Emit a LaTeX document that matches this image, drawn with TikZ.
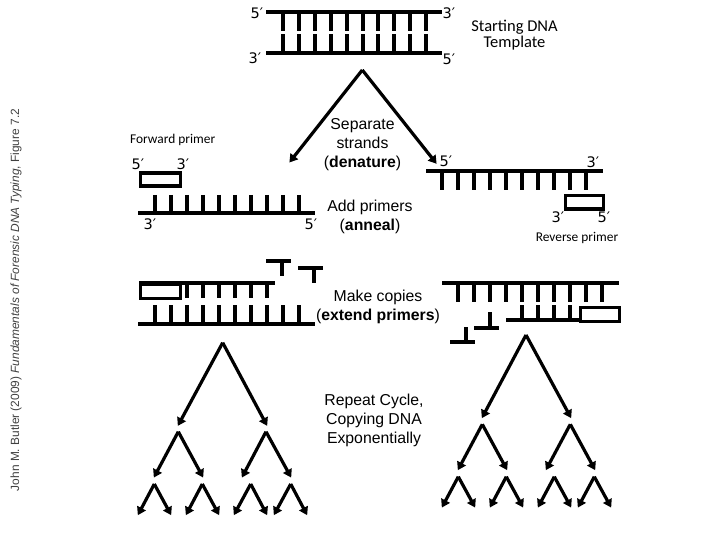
\documentclass[tikz,border=0pt]{standalone}
\usepackage{fontspec}
\setmainfont{Liberation Sans}
\newfontfamily\hand{Carlito}
\newfontfamily\primefont{DejaVu Sans}
\usetikzlibrary{arrows.meta}
\tikzset{
  strand/.style={line width=4pt,line cap=butt},
  rung/.style={line width=4pt,line cap=butt},
  primer/.style={draw=black,line width=3.2pt,fill=white,minimum width=0pt,inner sep=0pt},
  flow/.style={line width=3.2pt,line cap=butt,-{Triangle[length=8pt,width=9.5pt]},shorten >=-1pt},
  end/.style={font=\primefont\fontsize{14.5}{15}\selectfont,inner sep=0pt},
  small/.style={font=\hand\fontsize{13.4}{14}\selectfont,inner sep=0pt},
  big/.style={font=\hand\fontsize{16.5}{16}\selectfont,inner sep=0pt,align=center},
  arial/.style={font=\fontsize{15.8}{19}\selectfont,inner sep=0pt,align=center},
}
\newcommand{\forktree}[9]{%
  \coordinate (#1a) at (#2,#3);
  \coordinate (#1l) at (#4,#5);
  \coordinate (#1r) at (#6,#7);
  \draw[flow] (#1a) -- (#1l);
  \draw[flow] (#1a) -- (#1r);
}
\begin{document}
\begin{tikzpicture}[x=1pt,y=-1pt]
\useasboundingbox (0,0) rectangle (720,540);
% ---- template
\coordinate (t1a) at (266,11.7); \coordinate (t1b) at (442,11.7);
\coordinate (t2a) at (266,52.7); \coordinate (t2b) at (442,52.7);
\draw[strand] (t1a) -- (t1b);
\draw[strand] (t2a) -- (t2b);
\foreach \x in {283.3,299.3,315.3,331,346.8,362.5,378.3,394,410,426}{
  \draw[rung] (\x,11.7) -- (\x,31);
  \draw[rung] (\x,34.3) -- (\x,52.7);
}
\node[end] (l1) at (257,13) {5′};
\node[end] (l2) at (449,13) {3′};
\node[end] (l3) at (255,58) {3′};
\node[end] (l4) at (449,59) {5′};
\node[big] (title) at (514.5,35) {Starting DNA\\[0.5pt]Template};
% ---- denature
\coordinate (dn) at (362.3,70);
\coordinate (dl) at (290,161.7);
\coordinate (dr) at (436,163);
\draw[flow] (dn) -- (dl);
\draw[flow] (dn) -- (dr);
\node[arial] (sep) at (362.5,144.5) {Separate\\strands\\(\textbf{denature})};
% ---- left strand, annealing
\node[small,anchor=west] (fp) at (130,140) {Forward primer};
\node[end] (l5) at (138,164) {5′};
\node[end] (l6) at (183,164) {3′};
\node[primer,minimum width=39.5pt,minimum height=13pt,anchor=north west] (pf) at (139,171.5) {};
\coordinate (s1a) at (138,212.7); \coordinate (s1b) at (315,212.7);
\draw[strand] (s1a) -- (s1b);
\foreach \x in {155,171,187,203,219,235,251,267,283,298.5}
  \draw[rung] (\x,195) -- (\x,212.7);
\node[end] (l7) at (150,224) {3′};
\node[end] (l8) at (311,224) {5′};
\node[arial] (add) at (370,217) {Add primers\\(\textbf{anneal})};
% ---- right strand, annealing
\node[end] (l9) at (446,161) {5′};
\node[end] (l10) at (593,162) {3′};
\coordinate (s2a) at (426,170.7); \coordinate (s2b) at (603,170.7);
\draw[strand] (s2a) -- (s2b);
\foreach \x in {441.7,457.7,473.7,489.7,505.7,521.7,537.7,553.7,569.7,585.7}
  \draw[rung] (\x,170.7) -- (\x,190);
\node[primer,minimum width=38.5pt,minimum height=13.5pt,anchor=north west] (pr) at (563.5,194) {};
\node[end] (l11) at (558,217) {3′};
\node[end] (l12) at (604,217) {5′};
\node[small,anchor=center] (rp) at (577,237.5) {Reverse primer};
% ---- left extension
\coordinate (n1a) at (266,260.7); \coordinate (n1b) at (291,260.7);
\coordinate (n1s) at (282.3,260.7); \coordinate (n1e) at (282.3,276);
\draw[strand] (n1a) -- (n1b); \draw[rung] (n1s) -- (n1e);
\coordinate (n2a) at (298.3,267.7); \coordinate (n2b) at (323.3,267.7);
\coordinate (n2s) at (314,267.7); \coordinate (n2e) at (314,283);
\draw[strand] (n2a) -- (n2b); \draw[rung] (n2s) -- (n2e);
\coordinate (x1a) at (139,283.3); \coordinate (x1b) at (275,283.3);
\draw[strand] (x1a) -- (x1b);
\foreach \x in {187,203,219,235,251,267}
  \draw[rung] (\x,283.3) -- (\x,297.7);
\node[primer,minimum width=40pt,minimum height=14pt,anchor=north west] (pfx) at (139,283) {};
\coordinate (x2a) at (138,323.7); \coordinate (x2b) at (315,323.7);
\draw[strand] (x2a) -- (x2b);
\foreach \x in {155,171,187,203,219,235,251,267,283,298.5}
  \draw[rung] (\x,305) -- (\x,323.7);
\node[arial] (ext) at (378,306.5) {Make copies\\(\textbf{extend primers})};
% ---- right extension
\coordinate (y1a) at (442,282.7); \coordinate (y1b) at (619,282.7);
\draw[strand] (y1a) -- (y1b);
\foreach \x in {457.7,473.7,489.7,505.7,521.7,537.7,553.7,569.7,585.7,601.7}
  \draw[rung] (\x,282.7) -- (\x,301.7);
\coordinate (y2a) at (506,320); \coordinate (y2b) at (579,320);
\draw[strand] (y2a) -- (y2b);
\foreach \x in {521.7,537.7,553.7,569.7}
  \draw[rung] (\x,305) -- (\x,320);
\node[primer,minimum width=39pt,minimum height=14pt,anchor=north west] (prx) at (579,306) {};
\coordinate (n3a) at (474,328); \coordinate (n3b) at (499,328);
\coordinate (n3s) at (489.7,328); \coordinate (n3e) at (489.7,312.3);
\draw[strand] (n3a) -- (n3b); \draw[rung] (n3s) -- (n3e);
\coordinate (n4a) at (450,342.3); \coordinate (n4b) at (475,342.3);
\coordinate (n4s) at (466,342.3); \coordinate (n4e) at (466,326.7);
\draw[strand] (n4a) -- (n4b); \draw[rung] (n4s) -- (n4e);
% ---- left tree
\forktree{A}{222.7}{342.7}{178.3}{425}{266.7}{425}{}{}
\forktree{B}{178.3}{431.7}{154.3}{476.7}{202.7}{476.7}{}{}
\forktree{C}{266}{431.7}{242.3}{476.7}{290.7}{476.7}{}{}
\forktree{D}{154.3}{484}{138.3}{514.3}{170.7}{514.3}{}{}
\forktree{E}{202.3}{484}{186.3}{514.3}{218.7}{514.3}{}{}
\forktree{F}{250.7}{484}{234.3}{514.3}{266.7}{514.3}{}{}
\forktree{G}{290.7}{484}{274.3}{514.3}{306.7}{514.3}{}{}
% ---- right tree
\forktree{H}{526}{335}{482.3}{417.3}{570.7}{417.3}{}{}
\forktree{I}{482.3}{424.3}{458.3}{469.3}{506.7}{469.3}{}{}
\forktree{J}{570.3}{424.3}{546.3}{469.3}{594.7}{469.3}{}{}
\forktree{K}{458.3}{476.7}{442.3}{506.7}{474.7}{506.7}{}{}
\forktree{L}{506.3}{476.7}{490.3}{506.7}{522.7}{506.7}{}{}
\forktree{M}{554.3}{476.7}{538.3}{506.7}{570.7}{506.7}{}{}
\forktree{N}{594.3}{476.7}{578.3}{506.7}{610.7}{506.7}{}{}
\node[arial] (rep) at (374,420) {Repeat Cycle,\\Copying DNA\\Exponentially};
% ---- credit
\node[rotate=90,inner sep=0pt,text=black!75,font=\fontsize{11.9}{12}\selectfont] (credit) at (16,300)
  {John M. Butler (2009) \textit{Fundamentals of Forensic DNA Typing}, Figure 7.2};
\end{tikzpicture}
\end{document}
